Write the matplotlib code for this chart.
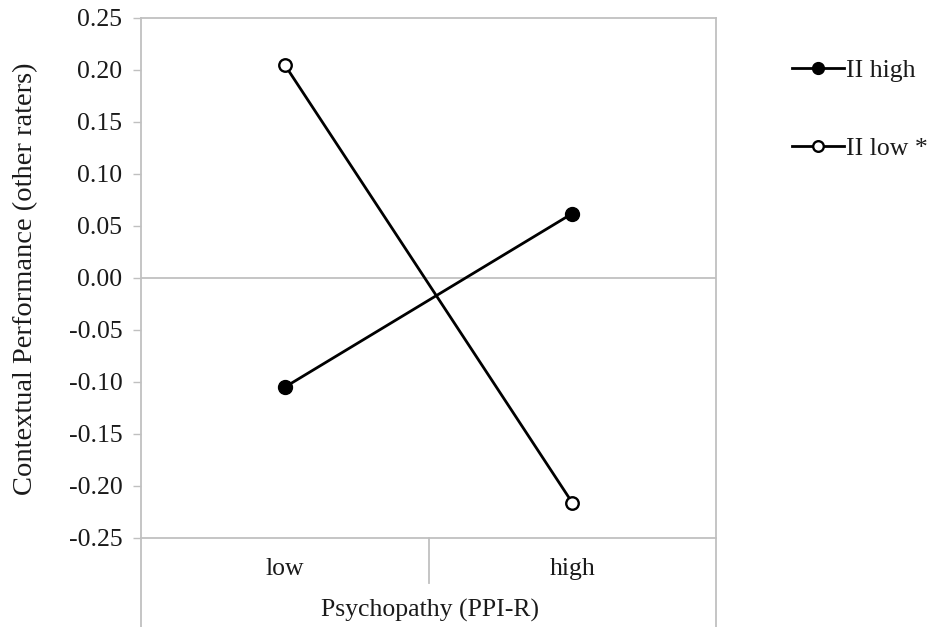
import matplotlib
matplotlib.use("Agg")
import matplotlib.pyplot as plt
from matplotlib.lines import Line2D

# data
categories = ["low", "high"]
ii_high = [-0.105, 0.062]
ii_low = [0.205, -0.216]
y_ticks = [0.25, 0.20, 0.15, 0.10, 0.05, 0.00, -0.05, -0.10, -0.15, -0.20, -0.25]

plt.rcParams['font.family'] = ['Liberation Serif', 'DejaVu Serif']
plt.rcParams['axes.unicode_minus'] = False

gray = '#c0c0c0'
txt = '#1a1a1a'
W, H = 927, 627
fig = plt.figure(figsize=(W / 100, H / 100), dpi=100)
x0, x1, y0, y1 = 141, 716, 18, 538
ax = fig.add_axes([x0 / W, 1 - y1 / H, (x1 - x0) / W, (y1 - y0) / H])

xs = list(range(len(categories)))
ax.plot(xs, ii_high, color='black', lw=2.0, marker='o', ms=10,
        mfc='black', mec='black', label='II high', zorder=3)
ax.plot(xs, ii_low, color='black', lw=2.0, marker='o', ms=9,
        mfc='white', mec='black', mew=1.7, label='II low *', zorder=3)

ax.set_xlim(-0.5, 1.5)
ax.set_ylim(-0.25, 0.25)
ax.axhline(0, color=gray, lw=1.3, zorder=1)

ax.set_yticks(y_ticks)
ax.set_yticklabels([f"{v:.2f}" for v in y_ticks])
ax.tick_params(axis='y', direction='out', length=5.5, width=1, color=gray,
               labelsize=18.5, pad=8, labelcolor=txt)
ax.set_xticks([])
for s in ax.spines.values():
    s.set_color(gray)
    s.set_linewidth(1.3)

fig.text(26 / W, 1 - 279 / H, "Contextual Performance (other raters)",
         rotation=90, ha='center', va='center', fontsize=20.5, color=txt)

# category area below the plot
for xp, yb in [(x0, H), (x1, H), ((x0 + x1) / 2, 583)]:
    fig.add_artist(Line2D([xp / W, xp / W], [1 - y1 / H, 1 - yb / H],
                          color=gray, lw=1.3, transform=fig.transFigure))
for i, c in enumerate(categories):
    ax.text(i, -0.2795, c, ha='center', va='center', fontsize=18.5,
            color=txt, transform=ax.transData, clip_on=False)
fig.text(430 / W, 1 - 610 / H, "Psychopathy (PPI-R)", ha='center',
         va='center', fontsize=18.5, color=txt)

leg = ax.legend(loc='upper left', bbox_to_anchor=(769 / W, 1 - 36 / H),
                bbox_transform=fig.transFigure, frameon=False, fontsize=18.5,
                handlelength=2.0, handletextpad=0.1, labelspacing=2.15,
                markerscale=0.85)
for t in leg.get_texts():
    t.set_color(txt)

fig.savefig("out.png", dpi=100)
